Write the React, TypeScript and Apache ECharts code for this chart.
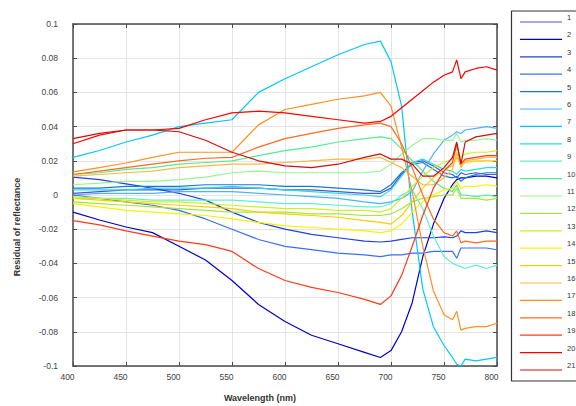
import React, { useEffect, useRef } from "react";
import * as echarts from "echarts";

const WAVELENGTHS = [400, 425, 450, 475, 500, 525, 550, 575, 600, 625, 650, 675, 690, 700, 710, 720, 730, 740, 750, 758, 762, 766, 770, 780, 790, 800];

const S1 = [0.001, 0.002, 0.003, 0.003, 0.003, 0.004, 0.004, 0.004, 0.003, 0.003, 0.002, 0.001, 0.001, 0.004, 0.012, 0.019, 0.02, 0.017, 0.013, 0.012, 0.01, 0.013, 0.012, 0.013, 0.012, 0.012];
const S2 = [-0.01, -0.0146, -0.0187, -0.022, -0.03, -0.038, -0.05, -0.064, -0.074, -0.082, -0.087, -0.092, -0.095, -0.091, -0.08, -0.063, -0.036, -0.017, -0.002, 0.006, 0.009, 0.01, 0.01, 0.011, 0.011, 0.01];
const S3 = [0.0105, 0.009, 0.0065, 0.004, 0.001, -0.003, -0.01, -0.016, -0.02, -0.023, -0.025, -0.027, -0.0275, -0.027, -0.026, -0.025, -0.025, -0.025, -0.0245, -0.025, -0.024, -0.021, -0.022, -0.022, -0.021, -0.022];
const S4 = [0.0, -0.002, -0.004, -0.006, -0.009, -0.014, -0.02, -0.026, -0.03, -0.032, -0.034, -0.035, -0.036, -0.035, -0.035, -0.034, -0.034, -0.033, -0.033, -0.033, -0.037, -0.031, -0.031, -0.031, -0.031, -0.032];
const S5 = [0.004, 0.004, 0.005, 0.005, 0.005, 0.006, 0.006, 0.006, 0.005, 0.005, 0.004, 0.003, 0.002, 0.006, 0.013, 0.018, 0.019, 0.015, 0.011, 0.01, 0.011, 0.008, 0.01, 0.012, 0.013, 0.013];
const S6 = [0.0, 0.001, 0.001, 0.001, 0.002, 0.002, 0.002, 0.001, 0.0, -0.001, -0.002, -0.004, -0.005, -0.004, -0.002, 0.002, 0.014, 0.024, 0.032, 0.035, 0.037, 0.036, 0.038, 0.039, 0.04, 0.039];
const S7 = [0.022, 0.026, 0.031, 0.035, 0.04, 0.042, 0.044, 0.06, 0.068, 0.075, 0.082, 0.088, 0.09, 0.078, 0.052, -0.01, -0.055, -0.077, -0.088, -0.095, -0.099, -0.1, -0.096, -0.097, -0.096, -0.095];
const S8 = [0.003, 0.003, 0.003, 0.004, 0.004, 0.004, 0.005, 0.004, 0.003, 0.002, 0.001, 0.0, -0.001, 0.003, 0.011, 0.019, 0.021, 0.018, 0.015, 0.014, 0.012, 0.015, 0.014, 0.015, 0.016, 0.016];
const S9 = [-0.002, -0.002, -0.002, -0.003, -0.003, -0.003, -0.003, -0.004, -0.005, -0.005, -0.006, -0.007, -0.007, -0.005, 0.0, 0.003, -0.008, -0.024, -0.036, -0.04, -0.041, -0.042, -0.043, -0.041, -0.043, -0.041];
const S10 = [0.012, 0.013, 0.015, 0.016, 0.018, 0.019, 0.02, 0.023, 0.026, 0.028, 0.031, 0.033, 0.034, 0.033, 0.027, 0.02, 0.014, 0.008, 0.004, 0.002, 0.006, 0.0, 0.0, -0.001, 0.0, -0.001];
const S11 = [0.006, 0.007, 0.008, 0.008, 0.009, 0.0105, 0.013, 0.014, 0.013, 0.013, 0.013, 0.013, 0.014, 0.018, 0.024, 0.029, 0.033, 0.033, 0.032, 0.032, 0.036, 0.031, 0.032, 0.032, 0.033, 0.032];
const S12 = [-0.004, -0.005, -0.006, -0.007, -0.008, -0.009, -0.01, -0.01, -0.01, -0.011, -0.011, -0.012, -0.012, -0.011, -0.008, -0.004, -0.002, -0.001, 0.0, 0.0, 0.004, -0.002, -0.002, -0.002, -0.003, -0.002];
const S13 = [-0.001, -0.002, -0.003, -0.004, -0.004, -0.005, -0.006, -0.007, -0.008, -0.008, -0.009, -0.009, -0.01, -0.008, -0.002, 0.005, 0.011, 0.016, 0.019, 0.021, 0.028, 0.022, 0.024, 0.025, 0.025, 0.026];
const S14 = [-0.005, -0.007, -0.009, -0.01, -0.011, -0.012, -0.014, -0.016, -0.018, -0.019, -0.02, -0.021, -0.022, -0.021, -0.017, -0.01, -0.004, 0.0, 0.003, 0.004, 0.008, 0.004, 0.005, 0.005, 0.006, 0.005];
const S15 = [-0.002, -0.003, -0.004, -0.005, -0.006, -0.007, -0.008, -0.01, -0.011, -0.012, -0.013, -0.015, -0.016, -0.017, -0.012, -0.004, 0.004, 0.01, 0.015, 0.017, 0.022, 0.017, 0.019, 0.02, 0.02, 0.02];
const S16 = [0.011, 0.012, 0.013, 0.014, 0.016, 0.017, 0.018, 0.018, 0.019, 0.02, 0.021, 0.021, 0.022, 0.019, 0.016, 0.011, 0.006, 0.006, 0.01, 0.015, 0.025, 0.016, 0.02, 0.021, 0.022, 0.022];
const S17 = [0.0135, 0.016, 0.0187, 0.022, 0.025, 0.025, 0.025, 0.041, 0.05, 0.053, 0.056, 0.058, 0.06, 0.052, 0.028, 0.002, -0.03, -0.056, -0.07, -0.073, -0.068, -0.079, -0.078, -0.077, -0.077, -0.075];
const S18 = [0.012, 0.014, 0.016, 0.018, 0.02, 0.0215, 0.022, 0.028, 0.033, 0.036, 0.039, 0.041, 0.042, 0.04, 0.03, 0.016, 0.0, -0.014, -0.022, -0.024, -0.021, -0.028, -0.027, -0.028, -0.027, -0.027];
const S19 = [-0.015, -0.0175, -0.021, -0.024, -0.027, -0.029, -0.033, -0.043, -0.05, -0.054, -0.057, -0.061, -0.064, -0.059, -0.047, -0.03, -0.012, 0.004, 0.014, 0.019, 0.03, 0.018, 0.021, 0.022, 0.023, 0.023];
const S20 = [0.03, 0.035, 0.038, 0.038, 0.039, 0.044, 0.048, 0.049, 0.048, 0.046, 0.044, 0.042, 0.043, 0.046, 0.051, 0.056, 0.061, 0.066, 0.07, 0.072, 0.079, 0.068, 0.072, 0.074, 0.075, 0.073];
const S21 = [0.033, 0.036, 0.038, 0.038, 0.037, 0.032, 0.025, 0.02, 0.017, 0.016, 0.018, 0.022, 0.024, 0.021, 0.021, 0.018, 0.011, 0.011, 0.016, 0.022, 0.031, 0.018, 0.031, 0.034, 0.035, 0.036];

const SERIES_VALUES = [S1, S2, S3, S4, S5, S6, S7, S8, S9, S10, S11, S12, S13, S14, S15, S16, S17, S18, S19, S20, S21];
const SERIES_NAMES = SERIES_VALUES.map((_, i) => String(i + 1));
const SERIES_COLORS = [
  "#5050d0", "#0000c8", "#2040e0", "#3a70f0", "#1878d8", "#50b0f8", "#00c8f8",
  "#20e0e8", "#60f0d0", "#50ee90", "#98f490", "#a0e840", "#d0f020", "#fff000",
  "#ffcc00", "#ffb840", "#ff9020", "#ff6a20", "#ff3a1a", "#ff0000", "#cc1010",
];

const FONT = "Liberation Sans";

export default function App() {
  const ref = useRef<HTMLDivElement>(null);
  useEffect(() => {
    if (!ref.current) return;
    const chart = echarts.init(ref.current, null, { renderer: "svg" });
    const axisLineStyle = { color: "#4a4a4a", width: 1.5 };
    const tickStyle = { color: "#4a4a4a", width: 1 };
    const fmtY = (v: number) => {
      const r = Math.round(v * 100) / 100;
      return r === 0 ? "0" : String(r);
    };
    const legendLines: any[] = [];
    SERIES_NAMES.forEach((name, i) => {
      const y = 22 + i * 17.4;
      legendLines.push({
        type: "line",
        shape: { x1: 520, y1: y, x2: 562, y2: y },
        style: { stroke: SERIES_COLORS[i], lineWidth: 1.2 },
      });
      legendLines.push({
        type: "text",
        x: 567,
        y: y - 4.5,
        style: {
          text: name,
          fill: "#333",
          fontSize: 7.5,
          fontFamily: FONT,
          textAlign: "left",
          textVerticalAlign: "middle",
        },
      });
    });
    chart.setOption({
      animation: false,
      backgroundColor: "#fff",
      grid: { left: 73, right: 79, top: 24, bottom: 40, containLabel: false },
      xAxis: [
        {
          type: "value",
          position: "bottom",
          min: 400,
          max: 800,
          interval: 50,
          axisLine: { show: true, onZero: false, lineStyle: axisLineStyle },
          axisTick: { show: true, inside: true, length: 4, lineStyle: tickStyle },
          axisLabel: { color: "#444", fontSize: 8.5, fontFamily: FONT, margin: 6, padding: [0, 11, 0, 0] },
          splitLine: { show: true, lineStyle: { color: "#e4e4e4", width: 1 } },
        },
        {
          type: "value",
          position: "top",
          min: 400,
          max: 800,
          interval: 50,
          axisLine: { show: true, onZero: false, lineStyle: axisLineStyle },
          axisTick: { show: true, inside: true, length: 4, lineStyle: tickStyle },
          axisLabel: { show: false },
          splitLine: { show: false },
        },
      ],
      yAxis: [
        {
          type: "value",
          position: "left",
          min: -0.1,
          max: 0.1,
          interval: 0.02,
          axisLine: { show: true, onZero: false, lineStyle: axisLineStyle },
          axisTick: { show: true, inside: true, length: 4, lineStyle: tickStyle },
          axisLabel: { color: "#444", fontSize: 8.5, fontFamily: FONT, margin: 15, formatter: fmtY },
          splitLine: { show: true, lineStyle: { color: "#e4e4e4", width: 1 } },
        },
        {
          type: "value",
          position: "right",
          min: -0.1,
          max: 0.1,
          interval: 0.02,
          axisLine: { show: true, onZero: false, lineStyle: axisLineStyle },
          axisTick: { show: true, inside: true, length: 4, lineStyle: tickStyle },
          axisLabel: { show: false },
          splitLine: { show: false },
        },
      ],
      series: SERIES_VALUES.map((vals, i) => ({
        name: SERIES_NAMES[i],
        type: "line",
        xAxisIndex: 0,
        yAxisIndex: 0,
        symbol: "none",
        data: WAVELENGTHS.map((x, j) => [x, vals[j]]),
        lineStyle: { width: 1.2, color: SERIES_COLORS[i] },
        itemStyle: { color: SERIES_COLORS[i] },
      })),
      graphic: [
        {
          type: "rect",
          shape: { x: 511.5, y: 11, width: 80, height: 370 },
          style: { fill: "#fff", stroke: "#333", lineWidth: 1.2 },
        },
        ...legendLines,
        {
          type: "text",
          x: 260,
          y: 398,
          style: {
            text: "Wavelength (nm)",
            fill: "#333",
            fontSize: 9,
            fontWeight: "bold",
            fontFamily: FONT,
            textAlign: "center",
            textVerticalAlign: "middle",
          },
        },
        {
          type: "text",
          x: 17,
          y: 227,
          rotation: Math.PI / 2,
          style: {
            text: "Residual of reflectance",
            fill: "#333",
            fontSize: 9,
            fontWeight: "bold",
            fontFamily: FONT,
            textAlign: "center",
            textVerticalAlign: "middle",
          },
        },
      ],
    });
    return () => chart.dispose();
  }, []);
  return (
    <div
      ref={ref}
      style={{ position: "fixed", left: 0, top: 0, width: 576, height: 406, background: "#fff" }}
    />
  );
}
